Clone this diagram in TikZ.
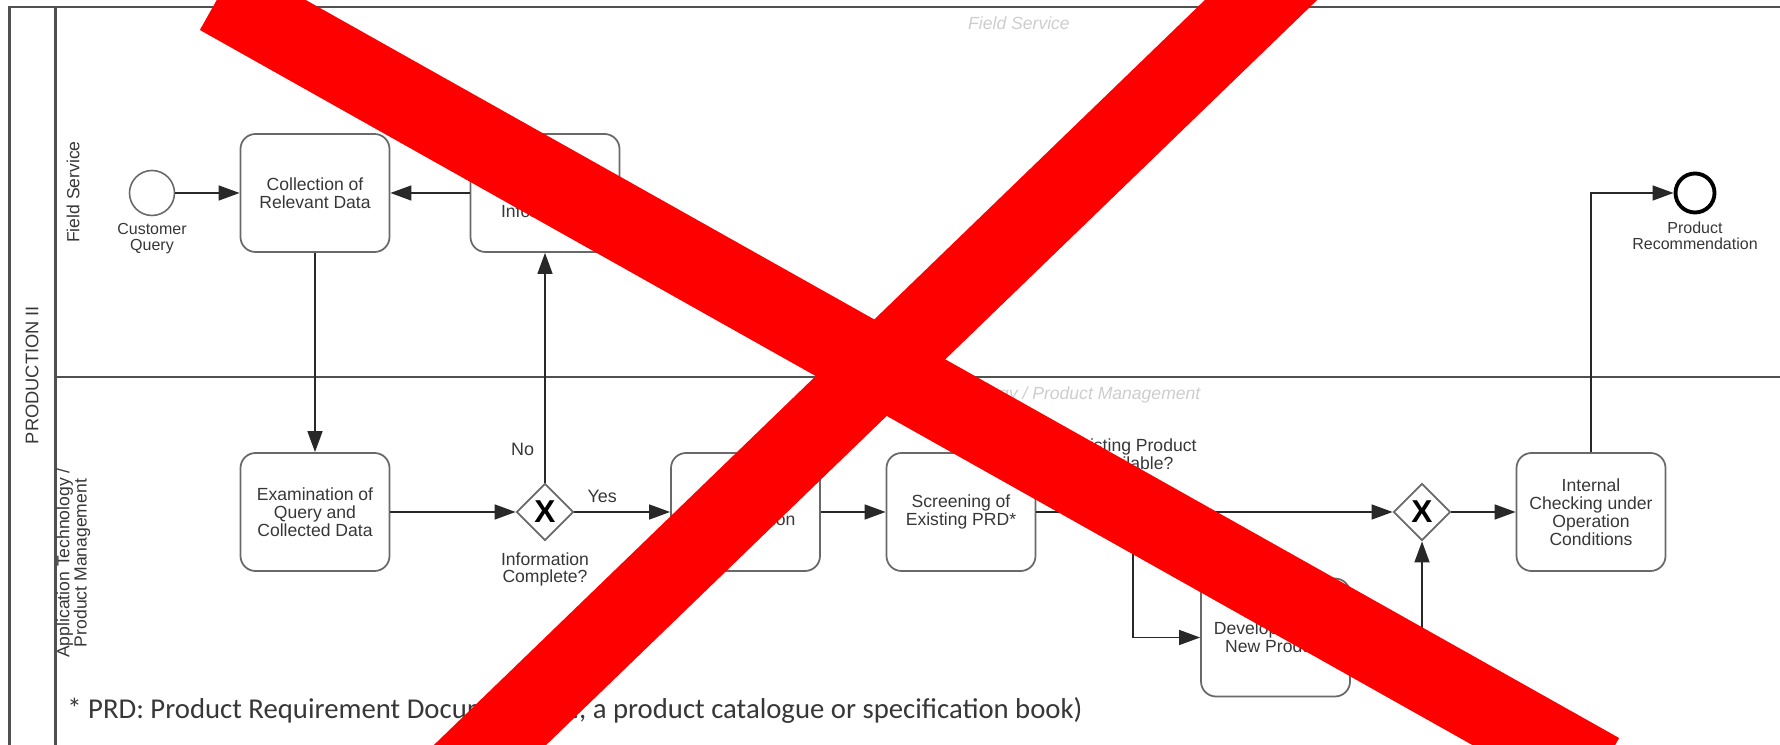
\documentclass[tikz,border=0pt]{standalone}
\usepackage{fontspec}
\setmainfont{Liberation Sans}
\newfontfamily\notefont{Carlito}
\usetikzlibrary{arrows.meta, positioning, shapes.geometric}
\definecolor{bpmnLine}{RGB}{40,40,40}
\definecolor{bpmnBorder}{RGB}{105,105,105}
\definecolor{bpmnText}{RGB}{55,55,55}
\definecolor{bpmnFaint}{RGB}{205,205,205}
\definecolor{bpmnFrame}{RGB}{80,80,80}
\definecolor{crossRed}{RGB}{255,0,0}

\tikzset{
  pool/.style={draw=bpmnFrame, line width=1.4pt},
  task/.style={draw=bpmnBorder, line width=1pt, rounded corners=0.3cm, minimum width=2.98cm,
    minimum height=2.36cm, align=center, text=bpmnText, inner sep=2pt,
    font=\fontsize{10}{10.2}\selectfont},
  gateway/.style={draw=bpmnBorder, line width=1pt, diamond, aspect=1, minimum size=1.14cm,
    inner sep=0pt, text=black, font=\fontsize{18}{18}\selectfont\bfseries},
  startevent/.style={circle, draw=bpmnBorder, line width=0.9pt, minimum size=0.9cm, inner sep=0pt},
  endevent/.style={circle, draw=black, line width=2.2pt, minimum size=0.78cm, inner sep=0pt},
  evlabel/.style={align=center, text=bpmnText, inner sep=0pt, font=\fontsize{9.1}{9.4}\selectfont},
  gwlabel/.style={align=center, text=bpmnText, inner sep=0pt, font=\fontsize{10}{10}\selectfont},
  flowlabel/.style={text=bpmnText, inner sep=0pt, font=\fontsize{10.2}{10.2}\selectfont},
  lanelabel/.style={rotate=90, align=center, text=bpmnText, inner sep=0pt, font=\fontsize{10}{9.8}\selectfont},
  lanewater/.style={text=bpmnFaint, inner sep=0pt, font=\fontsize{10}{10}\selectfont\itshape},
  flow/.style={draw=bpmnLine, line width=1.1pt, -{Triangle[length=12pt, width=8.5pt]}},
  crossband/.style={draw=crossRed, line width=1.56cm}
}

\begin{document}
\begin{tikzpicture}
  \useasboundingbox (0,0) rectangle (35.6,14.9);
  \clip (0,0) rectangle (35.6,14.9);

  % pool and lanes
  \draw[pool] (0.19,-0.06) rectangle (36,14.76);
  \draw[pool] (1.11,-0.06) -- (1.11,14.76);
  \draw[pool] (1.11,7.36) -- (36,7.36);
  \node[lanelabel, font=\fontsize{10.4}{10.4}\selectfont] (pool) at (0.64,7.40) {PRODUCTION II};
  \node[lanelabel] (fslane) at (1.46,11.06) {Field Service};
  \node[lanelabel] (atlane) at (1.47,3.64) {Application Technology /\\Product Management};
  \node[lanewater] (fswater) at (20.38,14.44) {Field Service};
  \node[lanewater] (atwater) at (20.38,7.00) {Application Technology / Product Management};

  % field service lane
  \node[startevent] (query) at (3.04,11.04) {};
  \node[evlabel] (querylbl) at (3.04,10.13) {Customer\\Query};
  \node[task] (collect) at (6.30,11.04) {Collection of\\Relevant Data};
  \node[task] (request) at (10.90,11.04) {Request of\\Additional\\Information};
  \node[endevent] (recommend) at (33.90,11.04) {};
  \node[evlabel] (recommendlbl) at (33.90,10.18) {Product\\Recommendation};

  % application technology / product management lane
  \node[task] (exam) at (6.30,4.66) {Examination of\\Query and\\Collected Data};
  \node[gateway] (infogw) at (10.90,4.66) {X};
  \node[gwlabel] (infolbl) at (10.90,3.51) {Information\\Complete?};
  \node[task] (techspec) at (14.91,4.66) {Technical\\Specification};
  \node[task] (screen) at (19.22,4.66) {Screening of\\Existing PRD*};
  \node[gateway] (existgw) at (22.66,4.66) {X};
  \node[gwlabel] (existlbl) at (22.66,5.82) {Existing Product\\Available?};
  \node[task] (develop) at (25.51,2.15) {Development of\\New Product};
  \node[gateway] (mergegw) at (28.44,4.66) {X};
  \node[task] (check) at (31.82,4.66) {Internal\\Checking under\\Operation\\Conditions};

  % sequence flows
  \draw[flow] (query) -- (collect);
  \draw[flow] (request) -- (collect);
  \draw[flow] (collect) -- (exam);
  \draw[flow] (exam) -- (infogw);
  \draw[flow] (infogw) -- node[flowlabel, pos=0.145, left=0.2cm] (nolbl) {No} (request);
  \draw[flow] (infogw) -- node[flowlabel, pos=0.29, above=0.17cm] (yeslbl) {Yes} (techspec);
  \draw[flow] (techspec) -- (screen);
  \draw[flow] (screen) -- (existgw);
  \draw[flow] (existgw) -- (mergegw);
  \draw[flow] (existgw.south) |- (develop.west);
  \draw[flow] (develop.east) -| (mergegw.south);
  \draw[flow] (mergegw) -- (check);
  \draw[flow] (check.north) |- (recommend.west);

  \node[anchor=base west, inner sep=0pt, text=bpmnText, font=\notefont\fontsize{16.35}{18}\selectfont] (note) at (1.34,0.52)
    {* PRD: Product Requirement Document (i.e., a product catalogue or specification book)};

  % red cross over everything
  \draw[crossband] (4.38,14.98) -- (32.0,-0.54);
  \draw[crossband] (25.8,15.46) -- (9.2,-0.58);
\end{tikzpicture}
\end{document}
